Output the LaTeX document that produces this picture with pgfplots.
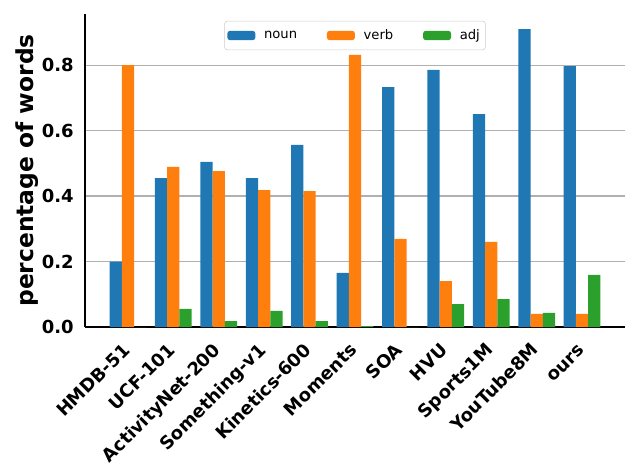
\documentclass[border=0pt]{standalone}
\usepackage{fontspec}
\setmainfont{DejaVu Sans}
\usepackage{pgfplots}
\pgfplotsset{compat=1.18}
\definecolor{tabblue}{HTML}{1F77B4}
\definecolor{taborange}{HTML}{FF7F0E}
\definecolor{tabgreen}{HTML}{2CA02C}
\definecolor{gridgray}{HTML}{B0B0B0}
\begin{document}
\begin{tikzpicture}
\useasboundingbox (-0.85in,-1.49in) rectangle (5.55in,3.27in);
\begin{axis}[
  at={(0,0)}, anchor=south west,
  scale only axis, width=5.4in, height=3.13in,
  xmin=-0.945, xmax=10.945, ymin=0, ymax=0.956,
  axis x line*=bottom, axis y line*=left,
  axis line style={black, line width=0.9pt, -},
  ybar, bar width=0.27,
  xtick={0,...,10},
  xticklabels={HMDB-51,UCF-101,ActivityNet-200,Something-v1,Kinetics-600,Moments,SOA,HVU,Sports1M,YouTube8M,ours},
  ytick={0,0.2,0.4,0.6,0.8},
  yticklabels={0.0,0.2,0.4,0.6,0.8},
  major tick length=0pt,
  ymajorgrids, grid style={gridgray, line width=0.8pt},
  tick label style={font=\fontsize{13}{15}\selectfont\bfseries},
  yticklabel style={inner sep=0pt, anchor=east, xshift=-0.11in},
  xticklabel style={inner sep=0pt, text height=0.76em, text depth=0.24em, xshift=-0.045in, yshift=-0.165in, rotate=45, anchor=north east},
  ylabel={percentage of words},
  every axis y label/.style={at={(axis description cs:0,0.5)}, xshift=-0.575in, rotate=90, anchor=center, font=\fontsize{16.9}{20}\selectfont\bfseries},
  legend columns=3,
  legend style={at={(0.5,0.978)}, anchor=north, draw=black!20, rounded corners=2pt, fill=white, font=\fontsize{9.5}{11}\selectfont, inner xsep=2pt, inner ysep=4pt, /tikz/every even column/.append style={column sep=0.27in}},
  legend image code/.code={\fill[#1] (0in,-0.047in) rectangle (0.28in,0.047in); \path (0.34in,0);},
]
\addplot[fill=tabblue, draw=none, bar shift=-0.27] coordinates {(0,0.200) (1,0.455) (2,0.504) (3,0.455) (4,0.556) (5,0.165) (6,0.733) (7,0.785) (8,0.650) (9,0.910) (10,0.797)};
\addplot[fill=taborange, draw=none, bar shift=0] coordinates {(0,0.800) (1,0.489) (2,0.476) (3,0.418) (4,0.415) (5,0.831) (6,0.269) (7,0.140) (8,0.260) (9,0.040) (10,0.040)};
\addplot[fill=tabgreen, draw=none, bar shift=0.27] coordinates {(0,0) (1,0.055) (2,0.018) (3,0.049) (4,0.018) (5,0.003) (6,0) (7,0.070) (8,0.085) (9,0.043) (10,0.159)};
\legend{noun,verb,adj}
\end{axis}
\end{tikzpicture}
\end{document}
